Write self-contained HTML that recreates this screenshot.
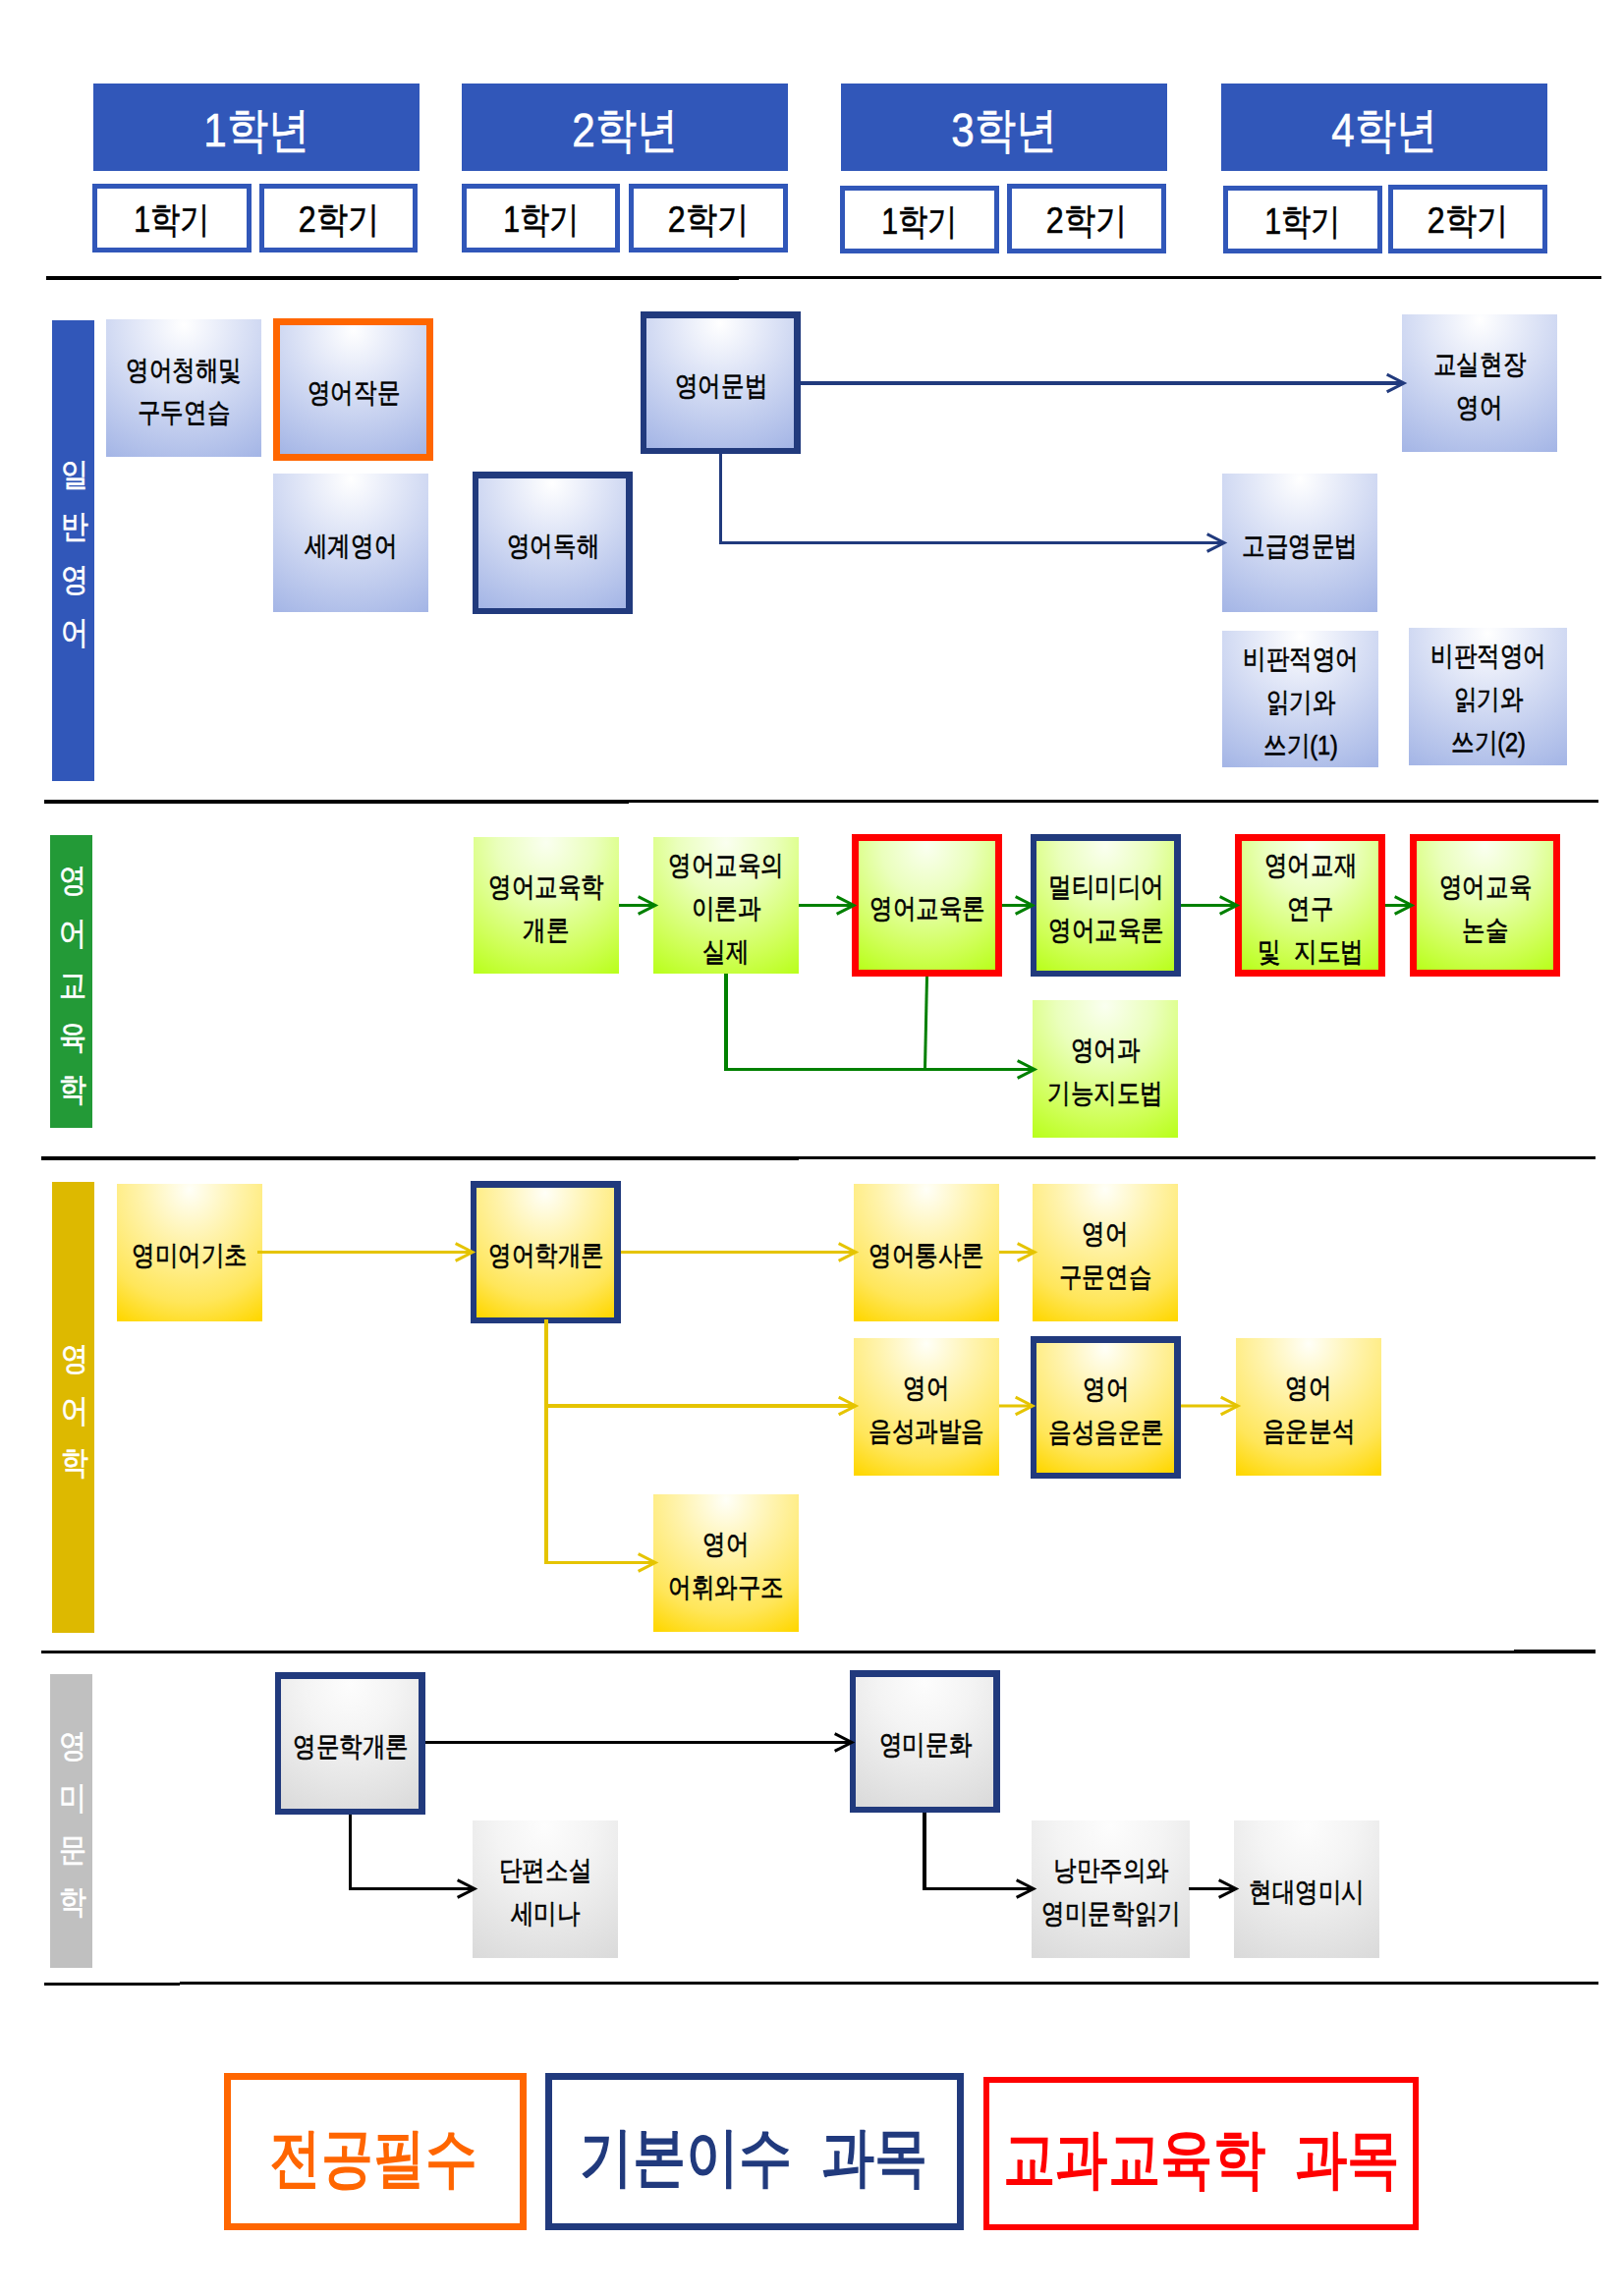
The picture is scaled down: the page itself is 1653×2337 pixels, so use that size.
<!DOCTYPE html>
<html><head><meta charset="utf-8"><style>
html,body{margin:0;padding:0;background:#fff;}
body{width:1653px;height:2337px;position:relative;overflow:hidden;font-family:"Liberation Sans",sans-serif;}
</style></head><body>
<div style="position:absolute;left:95px;top:85px;width:332px;height:89px;background:#3157B9"></div><div style="position:absolute;left:470px;top:85px;width:332px;height:89px;background:#3157B9"></div><div style="position:absolute;left:856px;top:85px;width:332px;height:89px;background:#3157B9"></div><div style="position:absolute;left:1243px;top:85px;width:332px;height:89px;background:#3157B9"></div><div style="position:absolute;left:-139.0px;top:106.69999999999999px;width:800px;height:50px;text-align:center;font-size:49px;line-height:50px;color:#fff;font-weight:normal;letter-spacing:0px;transform:scaleX(0.86);white-space:nowrap;-webkit-text-stroke:0.6px #fff">1학년</div><div style="position:absolute;left:236.0px;top:106.69999999999999px;width:800px;height:50px;text-align:center;font-size:49px;line-height:50px;color:#fff;font-weight:normal;letter-spacing:0px;transform:scaleX(0.86);white-space:nowrap;-webkit-text-stroke:0.6px #fff">2학년</div><div style="position:absolute;left:622.0px;top:106.69999999999999px;width:800px;height:50px;text-align:center;font-size:49px;line-height:50px;color:#fff;font-weight:normal;letter-spacing:0px;transform:scaleX(0.86);white-space:nowrap;-webkit-text-stroke:0.6px #fff">3학년</div><div style="position:absolute;left:1009.0px;top:106.69999999999999px;width:800px;height:50px;text-align:center;font-size:49px;line-height:50px;color:#fff;font-weight:normal;letter-spacing:0px;transform:scaleX(0.86);white-space:nowrap;-webkit-text-stroke:0.6px #fff">4학년</div><div style="position:absolute;left:94px;top:187px;width:162px;height:70px;box-sizing:border-box;border:5px solid #3157B9;background:#fff"></div><div style="position:absolute;left:-225.0px;top:204.0px;width:800px;height:40px;text-align:center;font-size:37px;line-height:40px;color:#000;font-weight:normal;letter-spacing:0px;transform:scaleX(0.82);white-space:nowrap;-webkit-text-stroke:0.6px #000">1학기</div><div style="position:absolute;left:264px;top:187px;width:161px;height:70px;box-sizing:border-box;border:5px solid #3157B9;background:#fff"></div><div style="position:absolute;left:-55.5px;top:204.0px;width:800px;height:40px;text-align:center;font-size:37px;line-height:40px;color:#000;font-weight:normal;letter-spacing:0px;transform:scaleX(0.87);white-space:nowrap;-webkit-text-stroke:0.6px #000">2학기</div><div style="position:absolute;left:470px;top:187px;width:161px;height:70px;box-sizing:border-box;border:5px solid #3157B9;background:#fff"></div><div style="position:absolute;left:150.5px;top:204.0px;width:800px;height:40px;text-align:center;font-size:37px;line-height:40px;color:#000;font-weight:normal;letter-spacing:0px;transform:scaleX(0.82);white-space:nowrap;-webkit-text-stroke:0.6px #000">1학기</div><div style="position:absolute;left:640px;top:187px;width:162px;height:70px;box-sizing:border-box;border:5px solid #3157B9;background:#fff"></div><div style="position:absolute;left:321.0px;top:204.0px;width:800px;height:40px;text-align:center;font-size:37px;line-height:40px;color:#000;font-weight:normal;letter-spacing:0px;transform:scaleX(0.87);white-space:nowrap;-webkit-text-stroke:0.6px #000">2학기</div><div style="position:absolute;left:855px;top:189px;width:162px;height:69px;box-sizing:border-box;border:5px solid #3157B9;background:#fff"></div><div style="position:absolute;left:536.0px;top:205.5px;width:800px;height:40px;text-align:center;font-size:37px;line-height:40px;color:#000;font-weight:normal;letter-spacing:0px;transform:scaleX(0.82);white-space:nowrap;-webkit-text-stroke:0.6px #000">1학기</div><div style="position:absolute;left:1025px;top:187px;width:162px;height:71px;box-sizing:border-box;border:5px solid #3157B9;background:#fff"></div><div style="position:absolute;left:706.0px;top:204.5px;width:800px;height:40px;text-align:center;font-size:37px;line-height:40px;color:#000;font-weight:normal;letter-spacing:0px;transform:scaleX(0.87);white-space:nowrap;-webkit-text-stroke:0.6px #000">2학기</div><div style="position:absolute;left:1245px;top:189px;width:162px;height:69px;box-sizing:border-box;border:5px solid #3157B9;background:#fff"></div><div style="position:absolute;left:926.0px;top:205.5px;width:800px;height:40px;text-align:center;font-size:37px;line-height:40px;color:#000;font-weight:normal;letter-spacing:0px;transform:scaleX(0.82);white-space:nowrap;-webkit-text-stroke:0.6px #000">1학기</div><div style="position:absolute;left:1413px;top:188px;width:162px;height:70px;box-sizing:border-box;border:5px solid #3157B9;background:#fff"></div><div style="position:absolute;left:1094.0px;top:205.0px;width:800px;height:40px;text-align:center;font-size:37px;line-height:40px;color:#000;font-weight:normal;letter-spacing:0px;transform:scaleX(0.87);white-space:nowrap;-webkit-text-stroke:0.6px #000">2학기</div><div style="position:absolute;left:47px;top:281px;width:705px;height:4px;background:#000"></div><div style="position:absolute;left:752px;top:281px;width:878px;height:3px;background:#000"></div><div style="position:absolute;left:45px;top:814px;width:595px;height:4px;background:#000"></div><div style="position:absolute;left:640px;top:814px;width:987px;height:3px;background:#000"></div><div style="position:absolute;left:42px;top:1177px;width:771px;height:4px;background:#000"></div><div style="position:absolute;left:813px;top:1177px;width:811px;height:3px;background:#000"></div><div style="position:absolute;left:42px;top:1680px;width:1499px;height:3px;background:#000"></div><div style="position:absolute;left:1541px;top:1679px;width:83px;height:4px;background:#000"></div><div style="position:absolute;left:45px;top:2018px;width:138px;height:3px;background:#000"></div><div style="position:absolute;left:183px;top:2017px;width:1444px;height:3px;background:#000"></div><div style="position:absolute;left:53px;top:326px;width:43px;height:469px;background:#3157B9"></div><div style="position:absolute;left:-324.5px;top:464.5px;width:800px;height:36px;text-align:center;font-size:33px;line-height:36px;color:#fff;font-weight:normal;letter-spacing:0px;transform:scaleX(0.85);white-space:nowrap;-webkit-text-stroke:0.6px #fff">일</div><div style="position:absolute;left:-324.5px;top:518.2px;width:800px;height:36px;text-align:center;font-size:33px;line-height:36px;color:#fff;font-weight:normal;letter-spacing:0px;transform:scaleX(0.85);white-space:nowrap;-webkit-text-stroke:0.6px #fff">반</div><div style="position:absolute;left:-324.5px;top:571.9px;width:800px;height:36px;text-align:center;font-size:33px;line-height:36px;color:#fff;font-weight:normal;letter-spacing:0px;transform:scaleX(0.85);white-space:nowrap;-webkit-text-stroke:0.6px #fff">영</div><div style="position:absolute;left:-324.5px;top:625.6px;width:800px;height:36px;text-align:center;font-size:33px;line-height:36px;color:#fff;font-weight:normal;letter-spacing:0px;transform:scaleX(0.85);white-space:nowrap;-webkit-text-stroke:0.6px #fff">어</div><div style="position:absolute;left:51px;top:850px;width:43px;height:298px;background:#239A37"></div><div style="position:absolute;left:-326.5px;top:878.3px;width:800px;height:36px;text-align:center;font-size:33px;line-height:36px;color:#fff;font-weight:normal;letter-spacing:0px;transform:scaleX(0.85);white-space:nowrap;-webkit-text-stroke:0.6px #fff">영</div><div style="position:absolute;left:-326.5px;top:931.5px;width:800px;height:36px;text-align:center;font-size:33px;line-height:36px;color:#fff;font-weight:normal;letter-spacing:0px;transform:scaleX(0.85);white-space:nowrap;-webkit-text-stroke:0.6px #fff">어</div><div style="position:absolute;left:-326.5px;top:984.6999999999999px;width:800px;height:36px;text-align:center;font-size:33px;line-height:36px;color:#fff;font-weight:normal;letter-spacing:0px;transform:scaleX(0.85);white-space:nowrap;-webkit-text-stroke:0.6px #fff">교</div><div style="position:absolute;left:-326.5px;top:1037.9px;width:800px;height:36px;text-align:center;font-size:33px;line-height:36px;color:#fff;font-weight:normal;letter-spacing:0px;transform:scaleX(0.85);white-space:nowrap;-webkit-text-stroke:0.6px #fff">육</div><div style="position:absolute;left:-326.5px;top:1091.1px;width:800px;height:36px;text-align:center;font-size:33px;line-height:36px;color:#fff;font-weight:normal;letter-spacing:0px;transform:scaleX(0.85);white-space:nowrap;-webkit-text-stroke:0.6px #fff">학</div><div style="position:absolute;left:53px;top:1203px;width:43px;height:459px;background:#DDB900"></div><div style="position:absolute;left:-324.5px;top:1364.5px;width:800px;height:36px;text-align:center;font-size:33px;line-height:36px;color:#fff;font-weight:normal;letter-spacing:0px;transform:scaleX(0.85);white-space:nowrap;-webkit-text-stroke:0.6px #fff">영</div><div style="position:absolute;left:-324.5px;top:1417.9px;width:800px;height:36px;text-align:center;font-size:33px;line-height:36px;color:#fff;font-weight:normal;letter-spacing:0px;transform:scaleX(0.85);white-space:nowrap;-webkit-text-stroke:0.6px #fff">어</div><div style="position:absolute;left:-324.5px;top:1471.3px;width:800px;height:36px;text-align:center;font-size:33px;line-height:36px;color:#fff;font-weight:normal;letter-spacing:0px;transform:scaleX(0.85);white-space:nowrap;-webkit-text-stroke:0.6px #fff">학</div><div style="position:absolute;left:51px;top:1704px;width:43px;height:299px;background:#C0C0C0"></div><div style="position:absolute;left:-326.5px;top:1758.5px;width:800px;height:36px;text-align:center;font-size:33px;line-height:36px;color:#fff;font-weight:normal;letter-spacing:0px;transform:scaleX(0.85);white-space:nowrap;-webkit-text-stroke:0.6px #fff">영</div><div style="position:absolute;left:-326.5px;top:1811.8px;width:800px;height:36px;text-align:center;font-size:33px;line-height:36px;color:#fff;font-weight:normal;letter-spacing:0px;transform:scaleX(0.85);white-space:nowrap;-webkit-text-stroke:0.6px #fff">미</div><div style="position:absolute;left:-326.5px;top:1865.1px;width:800px;height:36px;text-align:center;font-size:33px;line-height:36px;color:#fff;font-weight:normal;letter-spacing:0px;transform:scaleX(0.85);white-space:nowrap;-webkit-text-stroke:0.6px #fff">문</div><div style="position:absolute;left:-326.5px;top:1918.4px;width:800px;height:36px;text-align:center;font-size:33px;line-height:36px;color:#fff;font-weight:normal;letter-spacing:0px;transform:scaleX(0.85);white-space:nowrap;-webkit-text-stroke:0.6px #fff">학</div><div style="position:absolute;left:108px;top:325px;width:158px;height:140px;background:radial-gradient(ellipse 95% 110% at 50% 4%, #FFFFFF 0%, #E4E9F8 30%, #A5B6E6 100%);box-sizing:border-box;"></div><div style="position:absolute;left:-213.0px;top:355.0px;width:800px;height:86px;text-align:center;font-size:28px;line-height:43px;color:#000;font-weight:normal;letter-spacing:0px;transform:scaleX(0.84);white-space:nowrap;-webkit-text-stroke:0.6px #000">영어청해및<br>구두연습</div><div style="position:absolute;left:278px;top:324px;width:163px;height:145px;background:radial-gradient(ellipse 95% 110% at 50% 4%, #FFFFFF 0%, #E4E9F8 30%, #A5B6E6 100%);box-sizing:border-box;border:7px solid #FF6600;"></div><div style="position:absolute;left:-40.5px;top:377.5px;width:800px;height:44px;text-align:center;font-size:28px;line-height:44px;color:#000;font-weight:normal;letter-spacing:0px;transform:scaleX(0.84);white-space:nowrap;-webkit-text-stroke:0.6px #000">영어작문</div><div style="position:absolute;left:278px;top:482px;width:158px;height:141px;background:radial-gradient(ellipse 95% 110% at 50% 4%, #FFFFFF 0%, #E4E9F8 30%, #A5B6E6 100%);box-sizing:border-box;"></div><div style="position:absolute;left:-43.0px;top:533.5px;width:800px;height:44px;text-align:center;font-size:28px;line-height:44px;color:#000;font-weight:normal;letter-spacing:0px;transform:scaleX(0.84);white-space:nowrap;-webkit-text-stroke:0.6px #000">세계영어</div><div style="position:absolute;left:481px;top:480px;width:163px;height:145px;background:radial-gradient(ellipse 95% 110% at 50% 4%, #FFFFFF 0%, #E4E9F8 30%, #A5B6E6 100%);box-sizing:border-box;border:7px solid #213A7D;border-width:7px 7px 6px 6px;"></div><div style="position:absolute;left:162.5px;top:533.5px;width:800px;height:44px;text-align:center;font-size:28px;line-height:44px;color:#000;font-weight:normal;letter-spacing:0px;transform:scaleX(0.84);white-space:nowrap;-webkit-text-stroke:0.6px #000">영어독해</div><div style="position:absolute;left:652px;top:317px;width:163px;height:145px;background:radial-gradient(ellipse 95% 110% at 50% 4%, #FFFFFF 0%, #E4E9F8 30%, #A5B6E6 100%);box-sizing:border-box;border:7px solid #213A7D;border-width:7px 7px 6px 6px;"></div><div style="position:absolute;left:333.5px;top:370.5px;width:800px;height:44px;text-align:center;font-size:28px;line-height:44px;color:#000;font-weight:normal;letter-spacing:0px;transform:scaleX(0.84);white-space:nowrap;-webkit-text-stroke:0.6px #000">영어문법</div><div style="position:absolute;left:1427px;top:320px;width:158px;height:140px;background:radial-gradient(ellipse 95% 110% at 50% 4%, #FFFFFF 0%, #E4E9F8 30%, #A5B6E6 100%);box-sizing:border-box;"></div><div style="position:absolute;left:1106.0px;top:349.0px;width:800px;height:88px;text-align:center;font-size:28px;line-height:44px;color:#000;font-weight:normal;letter-spacing:0px;transform:scaleX(0.84);white-space:nowrap;-webkit-text-stroke:0.6px #000">교실현장<br>영어</div><div style="position:absolute;left:1244px;top:482px;width:158px;height:141px;background:radial-gradient(ellipse 95% 110% at 50% 4%, #FFFFFF 0%, #E4E9F8 30%, #A5B6E6 100%);box-sizing:border-box;"></div><div style="position:absolute;left:923.0px;top:533.5px;width:800px;height:44px;text-align:center;font-size:28px;line-height:44px;color:#000;font-weight:normal;letter-spacing:0px;transform:scaleX(0.84);white-space:nowrap;-webkit-text-stroke:0.6px #000">고급영문법</div><div style="position:absolute;left:1244px;top:642px;width:159px;height:139px;background:radial-gradient(ellipse 95% 110% at 50% 4%, #FFFFFF 0%, #E4E9F8 30%, #A5B6E6 100%);box-sizing:border-box;"></div><div style="position:absolute;left:923.5px;top:648.5px;width:800px;height:132px;text-align:center;font-size:28px;line-height:44px;color:#000;font-weight:normal;letter-spacing:0px;transform:scaleX(0.84);white-space:nowrap;-webkit-text-stroke:0.6px #000">비판적영어<br>읽기와<br>쓰기(1)</div><div style="position:absolute;left:1434px;top:639px;width:161px;height:140px;background:radial-gradient(ellipse 95% 110% at 50% 4%, #FFFFFF 0%, #E4E9F8 30%, #A5B6E6 100%);box-sizing:border-box;"></div><div style="position:absolute;left:1114.5px;top:646.0px;width:800px;height:132px;text-align:center;font-size:28px;line-height:44px;color:#000;font-weight:normal;letter-spacing:0px;transform:scaleX(0.84);white-space:nowrap;-webkit-text-stroke:0.6px #000">비판적영어<br>읽기와<br>쓰기(2)</div><div style="position:absolute;left:482px;top:852px;width:148px;height:139px;background:radial-gradient(ellipse 95% 110% at 50% 4%, #FAFFF0 0%, #EAFFBC 35%, #D0FF5A 75%, #BAFF1E 100%);box-sizing:border-box;"></div><div style="position:absolute;left:156.0px;top:880.5px;width:800px;height:88px;text-align:center;font-size:28px;line-height:44px;color:#000;font-weight:normal;letter-spacing:0px;transform:scaleX(0.84);white-space:nowrap;-webkit-text-stroke:0.6px #000">영어교육학<br>개론</div><div style="position:absolute;left:665px;top:852px;width:148px;height:139px;background:radial-gradient(ellipse 95% 110% at 50% 4%, #FAFFF0 0%, #EAFFBC 35%, #D0FF5A 75%, #BAFF1E 100%);box-sizing:border-box;"></div><div style="position:absolute;left:339.0px;top:858.5px;width:800px;height:132px;text-align:center;font-size:28px;line-height:44px;color:#000;font-weight:normal;letter-spacing:0px;transform:scaleX(0.84);white-space:nowrap;-webkit-text-stroke:0.6px #000">영어교육의<br>이론과<br>실제</div><div style="position:absolute;left:867px;top:849px;width:153px;height:145px;background:radial-gradient(ellipse 95% 110% at 50% 4%, #FAFFF0 0%, #EAFFBC 35%, #D0FF5A 75%, #BAFF1E 100%);box-sizing:border-box;border:7px solid #FF0000;"></div><div style="position:absolute;left:543.5px;top:902.5px;width:800px;height:44px;text-align:center;font-size:28px;line-height:44px;color:#000;font-weight:normal;letter-spacing:0px;transform:scaleX(0.84);white-space:nowrap;-webkit-text-stroke:0.6px #000">영어교육론</div><div style="position:absolute;left:1049px;top:849px;width:153px;height:145px;background:radial-gradient(ellipse 95% 110% at 50% 4%, #FAFFF0 0%, #EAFFBC 35%, #D0FF5A 75%, #BAFF1E 100%);box-sizing:border-box;border:7px solid #213A7D;border-width:7px 7px 6px 6px;"></div><div style="position:absolute;left:725.5px;top:880.5px;width:800px;height:88px;text-align:center;font-size:28px;line-height:44px;color:#000;font-weight:normal;letter-spacing:0px;transform:scaleX(0.84);white-space:nowrap;-webkit-text-stroke:0.6px #000">멀티미디어<br>영어교육론</div><div style="position:absolute;left:1257px;top:849px;width:153px;height:145px;background:radial-gradient(ellipse 95% 110% at 50% 4%, #FAFFF0 0%, #EAFFBC 35%, #D0FF5A 75%, #BAFF1E 100%);box-sizing:border-box;border:7px solid #FF0000;"></div><div style="position:absolute;left:933.5px;top:858.5px;width:800px;height:132px;text-align:center;font-size:28px;line-height:44px;color:#000;font-weight:normal;letter-spacing:0px;transform:scaleX(0.84);white-space:nowrap;-webkit-text-stroke:0.6px #000">영어교재<br>연구<br>및&nbsp;&nbsp;지도법</div><div style="position:absolute;left:1435px;top:849px;width:153px;height:145px;background:radial-gradient(ellipse 95% 110% at 50% 4%, #FAFFF0 0%, #EAFFBC 35%, #D0FF5A 75%, #BAFF1E 100%);box-sizing:border-box;border:7px solid #FF0000;"></div><div style="position:absolute;left:1111.5px;top:880.5px;width:800px;height:88px;text-align:center;font-size:28px;line-height:44px;color:#000;font-weight:normal;letter-spacing:0px;transform:scaleX(0.84);white-space:nowrap;-webkit-text-stroke:0.6px #000">영어교육<br>논술</div><div style="position:absolute;left:1051px;top:1018px;width:148px;height:140px;background:radial-gradient(ellipse 95% 110% at 50% 4%, #FAFFF0 0%, #EAFFBC 35%, #D0FF5A 75%, #BAFF1E 100%);box-sizing:border-box;"></div><div style="position:absolute;left:725.0px;top:1047.0px;width:800px;height:88px;text-align:center;font-size:28px;line-height:44px;color:#000;font-weight:normal;letter-spacing:0px;transform:scaleX(0.84);white-space:nowrap;-webkit-text-stroke:0.6px #000">영어과<br>기능지도법</div><div style="position:absolute;left:119px;top:1205px;width:148px;height:140px;background:radial-gradient(ellipse 95% 110% at 50% 4%, #FFFFF8 0%, #FFF3AC 35%, #FFE65A 75%, #FFD700 100%);box-sizing:border-box;"></div><div style="position:absolute;left:-207.0px;top:1256.0px;width:800px;height:44px;text-align:center;font-size:28px;line-height:44px;color:#000;font-weight:normal;letter-spacing:0px;transform:scaleX(0.84);white-space:nowrap;-webkit-text-stroke:0.6px #000">영미어기초</div><div style="position:absolute;left:479px;top:1202px;width:153px;height:145px;background:radial-gradient(ellipse 95% 110% at 50% 4%, #FFFFF8 0%, #FFF3AC 35%, #FFE65A 75%, #FFD700 100%);box-sizing:border-box;border:7px solid #213A7D;border-width:7px 7px 6px 6px;"></div><div style="position:absolute;left:155.5px;top:1255.5px;width:800px;height:44px;text-align:center;font-size:28px;line-height:44px;color:#000;font-weight:normal;letter-spacing:0px;transform:scaleX(0.84);white-space:nowrap;-webkit-text-stroke:0.6px #000">영어학개론</div><div style="position:absolute;left:869px;top:1205px;width:148px;height:140px;background:radial-gradient(ellipse 95% 110% at 50% 4%, #FFFFF8 0%, #FFF3AC 35%, #FFE65A 75%, #FFD700 100%);box-sizing:border-box;"></div><div style="position:absolute;left:543.0px;top:1256.0px;width:800px;height:44px;text-align:center;font-size:28px;line-height:44px;color:#000;font-weight:normal;letter-spacing:0px;transform:scaleX(0.84);white-space:nowrap;-webkit-text-stroke:0.6px #000">영어통사론</div><div style="position:absolute;left:1051px;top:1205px;width:148px;height:140px;background:radial-gradient(ellipse 95% 110% at 50% 4%, #FFFFF8 0%, #FFF3AC 35%, #FFE65A 75%, #FFD700 100%);box-sizing:border-box;"></div><div style="position:absolute;left:725.0px;top:1234.0px;width:800px;height:88px;text-align:center;font-size:28px;line-height:44px;color:#000;font-weight:normal;letter-spacing:0px;transform:scaleX(0.84);white-space:nowrap;-webkit-text-stroke:0.6px #000">영어<br>구문연습</div><div style="position:absolute;left:869px;top:1362px;width:148px;height:140px;background:radial-gradient(ellipse 95% 110% at 50% 4%, #FFFFF8 0%, #FFF3AC 35%, #FFE65A 75%, #FFD700 100%);box-sizing:border-box;"></div><div style="position:absolute;left:543.0px;top:1391.0px;width:800px;height:88px;text-align:center;font-size:28px;line-height:44px;color:#000;font-weight:normal;letter-spacing:0px;transform:scaleX(0.84);white-space:nowrap;-webkit-text-stroke:0.6px #000">영어<br>음성과발음</div><div style="position:absolute;left:1049px;top:1360px;width:153px;height:145px;background:radial-gradient(ellipse 95% 110% at 50% 4%, #FFFFF8 0%, #FFF3AC 35%, #FFE65A 75%, #FFD700 100%);box-sizing:border-box;border:7px solid #213A7D;border-width:7px 7px 6px 6px;"></div><div style="position:absolute;left:725.5px;top:1391.5px;width:800px;height:88px;text-align:center;font-size:28px;line-height:44px;color:#000;font-weight:normal;letter-spacing:0px;transform:scaleX(0.84);white-space:nowrap;-webkit-text-stroke:0.6px #000">영어<br>음성음운론</div><div style="position:absolute;left:1258px;top:1362px;width:148px;height:140px;background:radial-gradient(ellipse 95% 110% at 50% 4%, #FFFFF8 0%, #FFF3AC 35%, #FFE65A 75%, #FFD700 100%);box-sizing:border-box;"></div><div style="position:absolute;left:932.0px;top:1391.0px;width:800px;height:88px;text-align:center;font-size:28px;line-height:44px;color:#000;font-weight:normal;letter-spacing:0px;transform:scaleX(0.84);white-space:nowrap;-webkit-text-stroke:0.6px #000">영어<br>음운분석</div><div style="position:absolute;left:665px;top:1521px;width:148px;height:140px;background:radial-gradient(ellipse 95% 110% at 50% 4%, #FFFFF8 0%, #FFF3AC 35%, #FFE65A 75%, #FFD700 100%);box-sizing:border-box;"></div><div style="position:absolute;left:339.0px;top:1550.0px;width:800px;height:88px;text-align:center;font-size:28px;line-height:44px;color:#000;font-weight:normal;letter-spacing:0px;transform:scaleX(0.84);white-space:nowrap;-webkit-text-stroke:0.6px #000">영어<br>어휘와구조</div><div style="position:absolute;left:280px;top:1702px;width:153px;height:145px;background:radial-gradient(ellipse 95% 110% at 50% 4%, #FDFDFD 0%, #F4F4F4 35%, #E4E4E4 75%, #DADADA 100%);box-sizing:border-box;border:7px solid #213A7D;border-width:7px 7px 6px 6px;"></div><div style="position:absolute;left:-43.5px;top:1755.5px;width:800px;height:44px;text-align:center;font-size:28px;line-height:44px;color:#000;font-weight:normal;letter-spacing:0px;transform:scaleX(0.84);white-space:nowrap;-webkit-text-stroke:0.6px #000">영문학개론</div><div style="position:absolute;left:865px;top:1700px;width:153px;height:145px;background:radial-gradient(ellipse 95% 110% at 50% 4%, #FDFDFD 0%, #F4F4F4 35%, #E4E4E4 75%, #DADADA 100%);box-sizing:border-box;border:7px solid #213A7D;border-width:7px 7px 6px 6px;"></div><div style="position:absolute;left:541.5px;top:1753.5px;width:800px;height:44px;text-align:center;font-size:28px;line-height:44px;color:#000;font-weight:normal;letter-spacing:0px;transform:scaleX(0.84);white-space:nowrap;-webkit-text-stroke:0.6px #000">영미문화</div><div style="position:absolute;left:481px;top:1853px;width:148px;height:140px;background:radial-gradient(ellipse 95% 110% at 50% 4%, #FDFDFD 0%, #F4F4F4 35%, #E4E4E4 75%, #DADADA 100%);box-sizing:border-box;"></div><div style="position:absolute;left:155.0px;top:1882.0px;width:800px;height:88px;text-align:center;font-size:28px;line-height:44px;color:#000;font-weight:normal;letter-spacing:0px;transform:scaleX(0.84);white-space:nowrap;-webkit-text-stroke:0.6px #000">단편소설<br>세미나</div><div style="position:absolute;left:1050px;top:1853px;width:161px;height:140px;background:radial-gradient(ellipse 95% 110% at 50% 4%, #FDFDFD 0%, #F4F4F4 35%, #E4E4E4 75%, #DADADA 100%);box-sizing:border-box;"></div><div style="position:absolute;left:730.5px;top:1882.0px;width:800px;height:88px;text-align:center;font-size:28px;line-height:44px;color:#000;font-weight:normal;letter-spacing:0px;transform:scaleX(0.84);white-space:nowrap;-webkit-text-stroke:0.6px #000">낭만주의와<br>영미문학읽기</div><div style="position:absolute;left:1256px;top:1853px;width:148px;height:140px;background:radial-gradient(ellipse 95% 110% at 50% 4%, #FDFDFD 0%, #F4F4F4 35%, #E4E4E4 75%, #DADADA 100%);box-sizing:border-box;"></div><div style="position:absolute;left:930.0px;top:1904.0px;width:800px;height:44px;text-align:center;font-size:28px;line-height:44px;color:#000;font-weight:normal;letter-spacing:0px;transform:scaleX(0.84);white-space:nowrap;-webkit-text-stroke:0.6px #000">현대영미시</div><div style="position:absolute;left:228px;top:2110px;width:308px;height:160px;box-sizing:border-box;border:7px solid #FF6600"></div><div style="position:absolute;left:555px;top:2110px;width:426px;height:160px;box-sizing:border-box;border:7px solid #213A7D"></div><div style="position:absolute;left:1001px;top:2114px;width:443px;height:156px;box-sizing:border-box;border:6px solid #FF0000"></div><div style="position:absolute;left:-20px;top:2161.0px;width:800px;height:70px;text-align:center;font-size:66px;line-height:70px;color:#FF6600;font-weight:normal;letter-spacing:0px;transform:scaleX(0.8);white-space:nowrap;-webkit-text-stroke:1.8px #FF6600">전공필수</div><div style="position:absolute;left:367px;top:2160.0px;width:800px;height:70px;text-align:center;font-size:66px;line-height:70px;color:#213A7D;font-weight:normal;letter-spacing:0px;transform:scaleX(0.82);white-space:nowrap;-webkit-text-stroke:1.8px #213A7D">기본이수&nbsp;&nbsp;과목</div><div style="position:absolute;left:823px;top:2162.0px;width:800px;height:70px;text-align:center;font-size:66px;line-height:70px;color:#FF0000;font-weight:normal;letter-spacing:0px;transform:scaleX(0.81);white-space:nowrap;-webkit-text-stroke:1.8px #FF0000">교과교육학&nbsp;&nbsp;과목</div>
<svg width="1653" height="2337" style="position:absolute;left:0;top:0"><polyline points="815,390 1428,390" fill="none" stroke="#213A7D" stroke-width="4"/><polyline points="1413.0,398.2 1429.0,390.0 1413.0,381.8" fill="none" stroke="#213A7D" stroke-width="3" stroke-linecap="square"/><line x1="733.5" y1="462" x2="733.5" y2="554" stroke="#213A7D" stroke-width="3"/><polyline points="732,552.5 1245,552.5" fill="none" stroke="#213A7D" stroke-width="3"/><polyline points="1230.0,560.7 1246.0,552.5 1230.0,544.3" fill="none" stroke="#213A7D" stroke-width="3" stroke-linecap="square"/><polyline points="630,921.5 666,921.5" fill="none" stroke="#008000" stroke-width="3"/><polyline points="651.0,929.7 667.0,921.5 651.0,913.3" fill="none" stroke="#008000" stroke-width="3" stroke-linecap="square"/><polyline points="813,921.5 868,921.5" fill="none" stroke="#008000" stroke-width="3"/><polyline points="853.0,929.7 869.0,921.5 853.0,913.3" fill="none" stroke="#008000" stroke-width="3" stroke-linecap="square"/><polyline points="1020,921.5 1050,921.5" fill="none" stroke="#008000" stroke-width="3"/><polyline points="1035.0,929.7 1051.0,921.5 1035.0,913.3" fill="none" stroke="#008000" stroke-width="3" stroke-linecap="square"/><polyline points="1202,921.5 1258,921.5" fill="none" stroke="#008000" stroke-width="3"/><polyline points="1243.0,929.7 1259.0,921.5 1243.0,913.3" fill="none" stroke="#008000" stroke-width="3" stroke-linecap="square"/><polyline points="1410,921.5 1436,921.5" fill="none" stroke="#008000" stroke-width="3"/><polyline points="1421.0,929.7 1437.0,921.5 1421.0,913.3" fill="none" stroke="#008000" stroke-width="3" stroke-linecap="square"/><line x1="739" y1="991" x2="739" y2="1090" stroke="#008000" stroke-width="4"/><polyline points="737,1088.5 1052,1088.5" fill="none" stroke="#008000" stroke-width="3"/><polyline points="1037.0,1096.7 1053.0,1088.5 1037.0,1080.3" fill="none" stroke="#008000" stroke-width="3" stroke-linecap="square"/><line x1="943.5" y1="994" x2="941.5" y2="1088" stroke="#008000" stroke-width="3"/><polyline points="262,1274.5 480,1274.5" fill="none" stroke="#E5C400" stroke-width="3"/><polyline points="465.0,1282.7 481.0,1274.5 465.0,1266.3" fill="none" stroke="#E5C400" stroke-width="3" stroke-linecap="square"/><polyline points="632,1274.5 870,1274.5" fill="none" stroke="#E5C400" stroke-width="3"/><polyline points="855.0,1282.7 871.0,1274.5 855.0,1266.3" fill="none" stroke="#E5C400" stroke-width="3" stroke-linecap="square"/><polyline points="1017,1274.5 1052,1274.5" fill="none" stroke="#E5C400" stroke-width="3"/><polyline points="1037.0,1282.7 1053.0,1274.5 1037.0,1266.3" fill="none" stroke="#E5C400" stroke-width="3" stroke-linecap="square"/><line x1="556" y1="1343" x2="556" y2="1592" stroke="#E5C400" stroke-width="4"/><polyline points="554,1590.5 666,1590.5" fill="none" stroke="#E5C400" stroke-width="3"/><polyline points="651.0,1598.7 667.0,1590.5 651.0,1582.3" fill="none" stroke="#E5C400" stroke-width="3" stroke-linecap="square"/><polyline points="556,1431 870,1431" fill="none" stroke="#E5C400" stroke-width="4"/><polyline points="855.0,1439.2 871.0,1431.0 855.0,1422.8" fill="none" stroke="#E5C400" stroke-width="3" stroke-linecap="square"/><polyline points="1017,1431 1050,1431" fill="none" stroke="#E5C400" stroke-width="3"/><polyline points="1035.0,1439.2 1051.0,1431.0 1035.0,1422.8" fill="none" stroke="#E5C400" stroke-width="3" stroke-linecap="square"/><polyline points="1202,1431 1259,1431" fill="none" stroke="#E5C400" stroke-width="3"/><polyline points="1244.0,1439.2 1260.0,1431.0 1244.0,1422.8" fill="none" stroke="#E5C400" stroke-width="3" stroke-linecap="square"/><polyline points="433,1773.5 866,1773.5" fill="none" stroke="#000" stroke-width="3"/><polyline points="851.0,1781.7 867.0,1773.5 851.0,1765.3" fill="none" stroke="#000" stroke-width="3" stroke-linecap="square"/><line x1="356.5" y1="1847" x2="356.5" y2="1924" stroke="#000" stroke-width="3"/><polyline points="355,1922.5 482,1922.5" fill="none" stroke="#000" stroke-width="3"/><polyline points="467.0,1930.7 483.0,1922.5 467.0,1914.3" fill="none" stroke="#000" stroke-width="3" stroke-linecap="square"/><line x1="941" y1="1845" x2="941" y2="1924" stroke="#000" stroke-width="4"/><polyline points="939,1922.5 1051,1922.5" fill="none" stroke="#000" stroke-width="3"/><polyline points="1036.0,1930.7 1052.0,1922.5 1036.0,1914.3" fill="none" stroke="#000" stroke-width="3" stroke-linecap="square"/><polyline points="1210,1922.5 1257,1922.5" fill="none" stroke="#000" stroke-width="3"/><polyline points="1242.0,1930.7 1258.0,1922.5 1242.0,1914.3" fill="none" stroke="#000" stroke-width="3" stroke-linecap="square"/></svg>
</body></html>
